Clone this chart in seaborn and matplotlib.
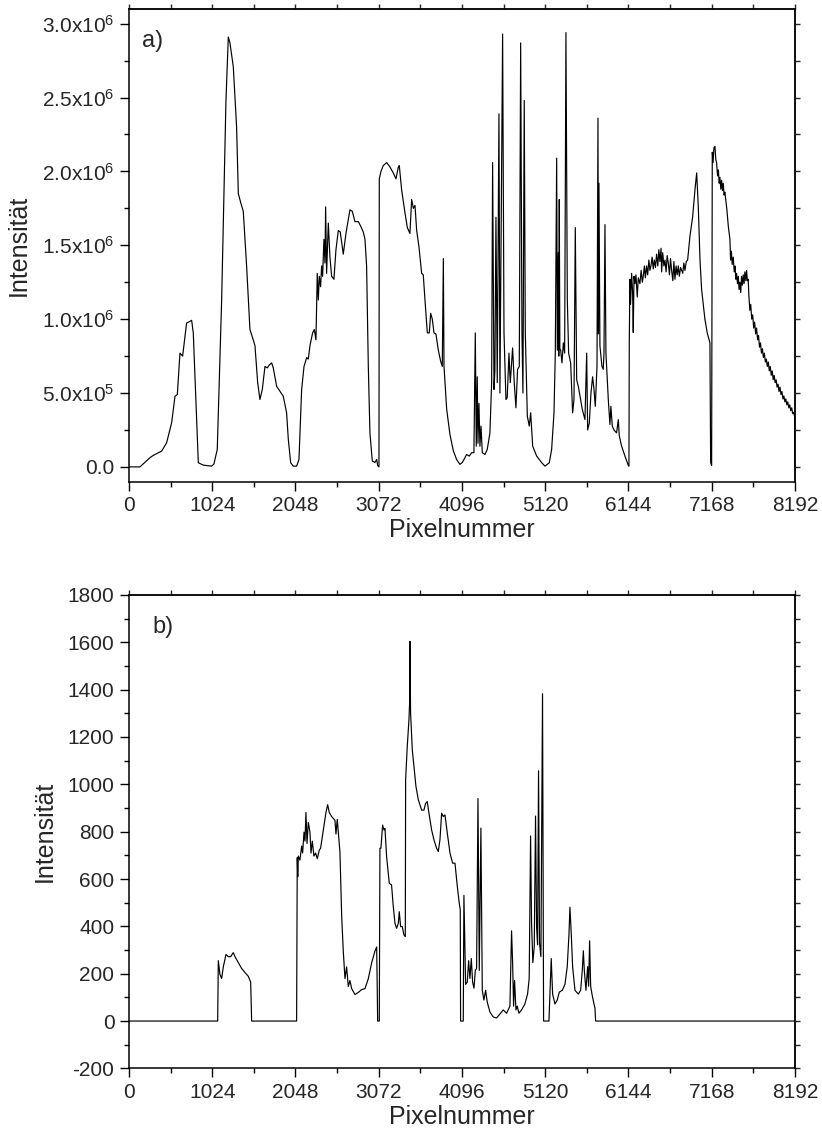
import numpy as np
import matplotlib
matplotlib.use("Agg")
import matplotlib.pyplot as plt
from matplotlib.ticker import MultipleLocator, FuncFormatter
import seaborn as sns

# ---------------- data ----------------
# panel a): pixel number and intensity in units of 1e5
pix_a = [0, 135, 258, 299, 402, 463, 525, 566, 595, 627, 660, 709, 750, 771, 791, 853, 914, 1017, 1045, 1086,
         1140, 1193, 1222, 1242, 1283, 1324, 1345, 1374, 1406, 1447, 1488, 1529, 1550, 1583, 1611, 1640, 1673,
         1701, 1726, 1755, 1775, 1816, 1857, 1898, 1939, 1960, 1989, 2021, 2062, 2091, 2124, 2153, 2186, 2206,
         2226, 2259, 2280, 2300, 2316, 2329, 2341, 2357, 2370, 2382, 2398, 2411, 2419, 2431, 2452, 2472, 2493,
         2521, 2546, 2575, 2599, 2636, 2669, 2718, 2747, 2780, 2821, 2850, 2882, 2903, 2923, 2944, 2964, 2993,
         3026, 3047, 3059, 3075, 3079, 3100, 3128, 3170, 3210, 3251, 3284, 3313, 3325, 3354, 3395, 3424, 3456,
         3477, 3498, 3518, 3539, 3567, 3600, 3620, 3641, 3670, 3694, 3711, 3731, 3752, 3776, 3805, 3834, 3854,
         3867, 3875, 3908, 3948, 3989, 4030, 4071, 4100, 4121, 4153, 4186, 4215, 4243, 4260, 4272, 4284, 4293,
         4305, 4317, 4330, 4346, 4379, 4407, 4440, 4461, 4473, 4490, 4501, 4514, 4530, 4551, 4563, 4596, 4613,
         4637, 4653, 4674, 4690, 4719, 4739, 4760, 4780, 4801, 4818, 4834, 4846, 4862, 4875, 4900, 4924, 4941,
         4966, 5015, 5077, 5117, 5170, 5199, 5228, 5244, 5261, 5269, 5281, 5287, 5293, 5300, 5310, 5326, 5343,
         5359, 5375, 5392, 5408, 5433, 5457, 5474, 5490, 5507, 5527, 5548, 5576, 5609, 5630, 5642, 5662, 5683,
         5703, 5720, 5736, 5757, 5769, 5775, 5781, 5793, 5818, 5834, 5843, 5855, 5867, 5896, 5916, 5928, 5945,
         5966, 5998, 6019, 6031, 6060, 6101, 6142, 6150,
         6154, 6162, 6170, 6183, 6195, 6203, 6212, 6224, 6236, 6252, 6265, 6285, 6300, 6315, 6326, 6340, 6352,
         6367, 6380, 6395, 6408, 6420, 6435, 6449, 6462, 6476, 6490, 6505, 6518, 6531, 6545, 6552, 6565, 6580,
         6593, 6607, 6620, 6634, 6648, 6661, 6675, 6690, 6703, 6716, 6730, 6743, 6757, 6770, 6785, 6798, 6812,
         6825, 6839, 6855, 6872, 6900, 6933, 6962, 6983, 7003, 7024, 7044, 7085, 7113, 7146, 7155, 7167,
         7175, 7185, 7195, 7208, 7218, 7228, 7240, 7250, 7260, 7269, 7280, 7290, 7300, 7310, 7320, 7330, 7343,
         7355, 7365, 7372, 7392, 7400, 7410, 7420, 7433, 7445, 7455, 7465, 7474, 7485, 7495, 7505, 7515, 7525,
         7535, 7545, 7556, 7566, 7576, 7588, 7597, 7607, 7617,
         7625, 7637, 7648, 7660, 7672, 7684, 7696, 7708, 7720, 7732, 7744, 7756, 7768, 7780, 7792, 7804, 7816,
         7828, 7840, 7852, 7864, 7876, 7888, 7900, 7912, 7924, 7936, 7948, 7960, 7972, 7984, 7996, 8008, 8020,
         8032, 8044, 8056, 8068, 8080, 8092, 8104, 8116, 8128, 8140, 8152, 8164, 8176, 8188, 8192]
int_a_1e5 = [0, 0, 0.62, 0.78, 1.07, 1.63, 2.99, 4.78, 4.9, 7.7, 7.5, 9.74, 9.85, 9.92, 9.07, 0.28, 0.12, 0.05, 0.2, 1.18,
             11.3, 24.8, 29.1, 28.7, 27.1, 23.0, 18.5, 17.9, 17.3, 13.6, 9.3, 8.6, 8.2, 5.7, 4.56, 5.24, 6.8,
             6.7, 6.9, 7.04, 6.7, 5.46, 5.12, 4.78, 3.66, 1.86, 0.28, 0.05, 0.05, 0.5, 5.24, 6.8, 7.4, 7.3,
             8.2, 9.07, 9.3, 8.6, 13.1, 11.3, 12.9, 12.2, 13.6, 12.9, 15.4, 13.8, 17.6, 13.1, 16.5, 14.2, 12.9,
             12.7, 14.7, 16.0, 15.9, 14.4, 15.8, 17.4, 17.3, 16.6, 16.6, 16.3, 15.9, 15.4, 13.6, 6.8, 2.3, 0.4,
             0.3, 0.5, 0.1, 0.0, 19.5, 20.0, 20.4, 20.6, 20.3, 19.9, 19.5, 20.3, 20.4, 18.75, 17.2, 16.2, 15.8,
             18.1, 17.5, 17.7, 16.0, 14.9, 13.1, 13.0, 11.3, 9.07, 9.07, 10.4, 10.0, 9.07, 9.0, 7.9, 7.15, 6.8,
             14.1, 6.8, 3.9, 2.2, 1.1, 0.5, 0.17, 0.3, 0.5, 0.84, 0.73, 0.96, 0.96, 9.07, 1.4, 6.1, 1.6,
             4.3, 1.4, 2.76, 0.96, 0.84, 1.18, 2.3, 5.7, 20.6, 5.24, 6.5, 16.9, 5.7, 23.9, 5.0, 29.3, 9.07,
             4.56, 4.7, 7.7, 5.7, 8.05, 5.7, 4.0, 6.6, 6.8, 28.7, 9.07, 5.0, 24.8, 9.07, 3.43, 2.76, 3.66,
             1.4, 0.73, 0.28, 0.05, 0.28, 1.18, 3.66, 7.7, 20.9, 7.9, 14.5, 7.5, 18.1, 8.0, 7.9, 7.04, 8.4,
             7.7, 29.4, 11.3, 7.7, 7.04, 3.66, 4.56, 16.2, 5.9, 5.46, 4.78, 3.9, 3.2, 7.7, 2.5, 2.96, 5.0,
             6.1, 5.24, 4.1, 6.8, 23.6, 9.0, 19.2, 8.2, 6.8, 6.6, 7.7, 16.4, 7.7, 4.56, 2.87, 4.1, 2.76,
             2.5, 2.3, 3.2, 2.1, 1.4, 0.73, 0.1, 0.05,
             8.4, 12.7, 11.0, 13.1, 11.8, 9.1, 12.9, 12.4, 13.0, 11.5, 12.8, 12.4, 13.3, 12.5, 12.9, 13.6, 12.8,
             13.6, 13.0, 14.0, 13.3, 13.6, 14.2, 13.4, 14.0, 13.5, 14.4, 13.6, 14.7, 13.9, 14.8, 13.2, 14.5, 13.6,
             14.0, 13.2, 14.3, 13.8, 13.0, 14.1, 13.3, 12.6, 13.9, 12.7, 13.6, 13.0, 13.6, 12.9, 13.5, 13.3, 13.1,
             13.8, 13.3, 13.9, 14.0, 15.6, 16.9, 18.75, 19.9, 17.6, 14.0, 12.0, 9.97, 9.07, 8.4, 0.28, 0.1,
             21.3, 20.6, 21.6, 21.7, 20.8, 20.6, 19.7, 20.1, 19.2, 19.6, 18.8, 19.4, 18.7, 19.2, 18.4, 18.6, 18.0,
             17.4, 16.8, 16.3, 15.4, 14.0, 14.6, 13.7, 14.2, 13.2, 13.6, 12.7, 13.1, 12.4, 12.9, 12.0, 12.5, 11.8,
             12.9, 12.3, 13.0, 12.4, 13.2, 12.6, 13.3, 12.6, 12.7,
             11.6, 10.6, 11.0, 10.0, 10.3, 9.4, 9.8, 9.0, 9.4, 8.6, 8.9, 8.1, 8.4, 7.7, 8.0, 7.4, 7.7,
             7.1, 7.3, 6.8, 7.1, 6.5, 6.8, 6.2, 6.5, 5.9, 6.2, 5.7, 5.9, 5.4, 5.6, 5.1, 5.4, 4.9,
             5.1, 4.6, 4.8, 4.4, 4.6, 4.2, 4.4, 4.0, 4.2, 3.8, 4.0, 3.6, 3.7, 3.4, 0.0]

# panel b): pixel number and intensity
pix_b = [0, 1091, 1099, 1119, 1140, 1161, 1193, 1222, 1250, 1283, 1304, 1345, 1386, 1427, 1468, 1497, 1509,
         2062, 2070, 2076, 2083, 2103, 2124, 2136, 2153, 2165, 2177, 2190, 2206, 2226, 2239, 2255, 2275, 2296,
         2316, 2341, 2357, 2390, 2423, 2444, 2464, 2493, 2534, 2546, 2562, 2575, 2595, 2616, 2636, 2657, 2677,
         2698, 2718, 2739, 2780, 2821, 2862, 2903, 2944, 2985, 3026, 3047, 3059, 3079, 3087, 3099, 3120, 3137,
         3149, 3169, 3202, 3230, 3251, 3272, 3292, 3313, 3325, 3341, 3362, 3382, 3399, 3403, 3423, 3444, 3452,
         3456, 3464, 3485, 3505, 3530, 3559, 3600, 3628, 3649, 3669, 3690, 3723, 3752, 3784, 3805, 3825, 3846,
         3866, 3887, 3916, 3949, 3981, 4010, 4039, 4063, 4075, 4079, 4112, 4120, 4141, 4161, 4178, 4194, 4211,
         4227, 4244, 4260, 4276, 4293, 4309, 4329, 4346, 4366, 4387, 4407, 4440, 4481, 4522, 4563, 4604, 4645,
         4686, 4706, 4719, 4731, 4743, 4760, 4776, 4796, 4829, 4870, 4903, 4923, 4940, 4952, 4968, 4985, 5001,
         5014, 5026, 5038, 5050, 5067, 5087, 5100, 5166, 5178, 5194, 5211, 5240, 5268, 5293, 5330, 5363, 5391,
         5412, 5424, 5441, 5457, 5486, 5527, 5556, 5576, 5589, 5601, 5621, 5642, 5654, 5666, 5679, 5695, 5720,
         5732, 5740, 8192]
int_b = [0, 0, 255, 197, 180, 230, 281, 272, 272, 289, 272, 247, 222, 205, 189, 164, 0,
         0, 690, 610, 697, 680, 739, 710, 798, 760, 881, 750, 839, 798, 710, 760, 697, 710,
         686, 722, 730, 806, 881, 914, 881, 864, 848, 790, 852, 798, 714, 447, 296, 179, 229,
         146, 171, 137, 112, 121, 133, 137, 179, 246, 296, 313, 0, 0, 730, 730, 828, 807,
         814, 695, 582, 575, 484, 413, 392, 413, 462, 399, 399, 364, 357, 1019, 1160, 1273, 1343,
         1604, 1301, 1146, 1075, 991, 935, 891, 891, 920, 927, 878, 807, 765, 730, 716, 765, 878,
         864, 871, 793, 709, 667, 667, 568, 497, 470, 0, 0, 531, 155, 164, 255, 180, 264,
         164, 139, 214, 222, 940, 214, 815, 130, 89, 130, 80, 38, 17, 13, 30, 47, 33,
         63, 381, 247, 63, 172, 47, 63, 33, 47, 72, 114, 180, 782, 414, 247, 314, 866,
         397, 322, 1057, 331, 272, 1383, 0, 0, 114, 264, 114, 72, 89, 122, 130, 155, 230,
         364, 481, 364, 230, 130, 114, 130, 214, 297, 214, 130, 230, 147, 339, 147, 114, 72,
         55, 0, 0]

x_ticks = [0, 1024, 2048, 3072, 4096, 5120, 6144, 7168, 8192]
panel_labels = ["a)", "b)"]
x_label = "Pixelnummer"
y_label = "Intensität"

# ---------------- style ----------------
sns.set_style("ticks")
plt.rcParams["font.family"] = ["Liberation Sans", "DejaVu Sans"]
plt.rcParams["mathtext.fontset"] = "custom"
plt.rcParams["mathtext.rm"] = "Liberation Sans"
plt.rcParams["mathtext.it"] = "Liberation Sans:italic"
plt.rcParams["mathtext.bf"] = "Liberation Sans:bold"
plt.rcParams["axes.unicode_minus"] = False

fig = plt.figure(figsize=(8.22, 11.43), dpi=100)
ax_a = fig.add_axes([0.1569, 0.5786, 0.8102, 0.4136])
ax_b = fig.add_axes([0.1569, 0.06527, 0.8102, 0.4142])

sns.lineplot(x=np.array(pix_a), y=np.array(int_a_1e5) * 1e5, ax=ax_a, estimator=None, sort=False,
             color="black", linewidth=0.85)
sns.lineplot(x=np.array(pix_b), y=np.array(int_b), ax=ax_b, estimator=None, sort=False,
             color="black", linewidth=0.85)


def sci_fmt(v, pos):
    if abs(v) < 1e-9:
        return "0.0"
    e = int(np.floor(np.log10(abs(v)) + 1e-9))
    m = v / 10 ** e
    return f"{m:.1f}x10$^{{{e}}}$"


ax_a.set_ylim(-1e5, 3.1e6)
ax_a.yaxis.set_major_locator(MultipleLocator(5e5))
ax_a.yaxis.set_minor_locator(MultipleLocator(2.5e5))
ax_a.yaxis.set_major_formatter(FuncFormatter(sci_fmt))

ax_b.set_ylim(-200, 1800)
ax_b.yaxis.set_major_locator(MultipleLocator(200))
ax_b.yaxis.set_minor_locator(MultipleLocator(100))

for ax, lab in zip([ax_a, ax_b], panel_labels):
    ax.set_xlim(0, 8192)
    ax.set_xticks(x_ticks)
    ax.xaxis.set_minor_locator(MultipleLocator(512))
    ax.set_xlabel(x_label, fontsize=18, labelpad=2)
    ax.set_ylabel(y_label, fontsize=18, labelpad=8)
    for s in ax.spines.values():
        s.set_visible(True)
        s.set_linewidth(1.1)
        s.set_color("black")
    ax.tick_params(which="major", direction="out", length=6.5, width=1.0, labelsize=15,
                   color="black", pad=4)
    ax.tick_params(which="minor", direction="out", length=3.6, width=1.0, color="black")
    # ticks on the opposite sides, without labels
    sec_x = ax.secondary_xaxis("top")
    sec_x.set_xticks([512 * i for i in range(17)])
    sec_x.tick_params(direction="out", length=3.6, width=1.0, labeltop=False)
    sec_x.spines["top"].set_linewidth(1.1)
    sec_y = ax.secondary_yaxis("right")
    step = 2.5e5 if ax is ax_a else 100
    lo, hi = ax.get_ylim()
    sec_y.set_yticks(np.arange(0, hi + 1, step).tolist() + np.arange(-step, lo - 1, -step).tolist())
    sec_y.tick_params(direction="out", length=3.6, width=1.0, labelright=False)
    sec_y.spines["right"].set_linewidth(1.1)

ax_a.text(0.0195, 0.9196, panel_labels[0], transform=ax_a.transAxes, fontsize=17, va="baseline")
ax_b.text(0.0356, 0.920, panel_labels[1], transform=ax_b.transAxes, fontsize=17, va="baseline")

fig.savefig("out.png", dpi=100)
